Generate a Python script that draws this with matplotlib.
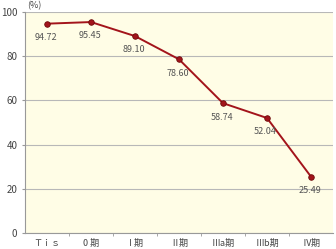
import matplotlib
matplotlib.use("Agg")
import matplotlib.pyplot as plt

plt.rcParams['font.family'] = ['Noto Sans CJK JP', 'DejaVu Sans']

categories = ["Ｔｉｓ", "0 期", "Ⅰ期", "Ⅱ期", "Ⅲa期", "Ⅲb期", "Ⅳ期"]
values = [94.72, 95.45, 89.10, 78.60, 58.74, 52.04, 25.49]
yticks = [0, 20, 40, 60, 80, 100]

fig = plt.figure(figsize=(3.36, 2.49), dpi=100)
ax = fig.add_axes([25/336, 16/249, 308/336, 221/249])
ax.set_facecolor("#FFFDE6")

x = list(range(len(categories)))
ax.plot(x, values, color="#A3141B", lw=1.4, marker="o", ms=4,
        markerfacecolor="#A3141B", markeredgecolor="#6E0A0A", markeredgewidth=0.6, zorder=3)
for xi, v in zip(x, values):
    ax.annotate(f"{v:.2f}", (xi, v), xytext=(-1, -10), textcoords="offset points",
                ha="center", va="center", fontsize=6.5, color="#555555")

ax.set_xlim(-0.5, len(categories) - 0.5)
ax.set_ylim(0, 100)
ax.set_yticks(yticks)
ax.set_yticklabels([str(t) for t in yticks], fontsize=7, color="#444444")
ax.yaxis.grid(True, color="#B8B8B8", lw=0.8)
ax.set_axisbelow(True)

ax.set_xticks(x)
ax.set_xticklabels(categories, fontsize=6.5, color="#444444")
ax.tick_params(axis="x", length=0, pad=4)
ax.set_xticks([i + 0.5 for i in x[:-1]], minor=True)
ax.tick_params(axis="x", which="minor", length=2.5, color="#999999")
ax.tick_params(axis="y", length=2.5, color="#999999", pad=3)

for s in ["top", "right"]:
    ax.spines[s].set_visible(False)
ax.spines["left"].set_color("#999999")
ax.spines["bottom"].set_color("#999999")
ax.spines["left"].set_linewidth(0.8)
ax.spines["bottom"].set_linewidth(0.8)

fig.text(27/336, 1 - 6/249, "(%)", fontsize=6.5, color="#444444", ha="left", va="center")

fig.savefig("out.png", dpi=100)
